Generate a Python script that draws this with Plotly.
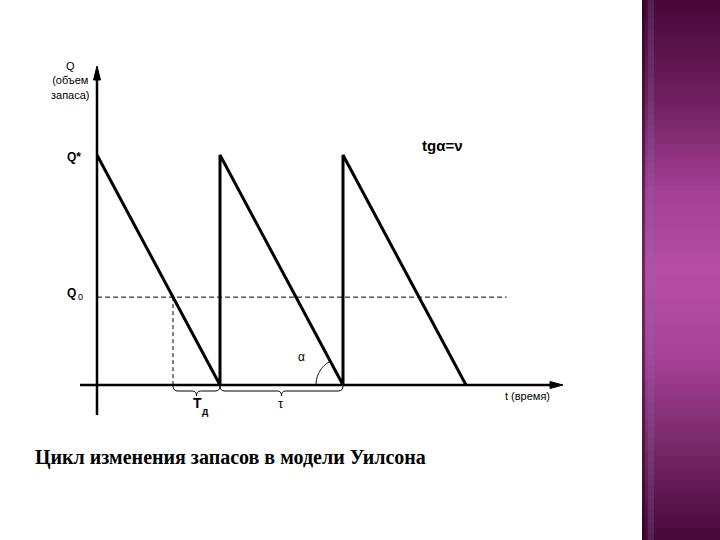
import plotly.graph_objects as go
import math

# ---- data (model units: cycle length tau = 1, Q* = 1) ----
t_saw = [0, 1, 1, 2, 2, 3]
q_saw = [1, 0, 1, 0, 1, 0]
q_star = 1.0
q_zero = 0.382
t_q0_end = 3.33

# pixel mapping of the drawing (layout only)
PX0, PXS = 97, 123
PY0, PYS = 385, 230
W, H = 720, 540


def T(px):
    return (px - PX0) / PXS


def Qv(py):
    return (PY0 - py) / PYS


fig = go.Figure()

# sawtooth
fig.add_trace(go.Scatter(x=t_saw, y=q_saw, mode="lines",
                         line=dict(color="black", width=3), hoverinfo="skip"))
# Q0 dashed horizontal
fig.add_trace(go.Scatter(x=[0, t_q0_end], y=[q_zero, q_zero], mode="lines",
                         line=dict(color="black", width=1, dash="5px,3px"), hoverinfo="skip"))
# Td dashed vertical (where the first tooth crosses Q0)
t_d = t_saw[1] * (1 - q_zero / q_star)
fig.add_trace(go.Scatter(x=[t_d, t_d], y=[q_zero, 0], mode="lines",
                         line=dict(color="black", width=1, dash="4px,3px"), hoverinfo="skip"))

shapes = []
# axes
shapes.append(dict(type="line", x0=0, x1=0, y0=Qv(415), y1=Qv(75), xref="x", yref="y",
                   line=dict(color="black", width=2.5)))
shapes.append(dict(type="line", x0=T(80), x1=T(555), y0=0, y1=0, xref="x", yref="y",
                   line=dict(color="black", width=2.5)))
# arrow heads
shapes.append(dict(type="path", xref="x", yref="y",
                   path=f"M {T(97)},{Qv(66)} L {T(93.5)},{Qv(80)} L {T(100.5)},{Qv(80)} Z",
                   fillcolor="black", line=dict(color="black", width=1)))
shapes.append(dict(type="path", xref="x", yref="y",
                   path=f"M {T(563)},{Qv(385)} L {T(550)},{Qv(381.5)} L {T(550)},{Qv(388.5)} Z",
                   fillcolor="black", line=dict(color="black", width=1)))


def brace(x1, x2, top=386, mid_y=391, tip=396):
    m = (x1 + x2) / 2
    p = (f"M {T(x1)},{Qv(top)} Q {T(x1)},{Qv(mid_y)} {T(x1+5)},{Qv(mid_y)} "
         f"L {T(m-4)},{Qv(mid_y)} Q {T(m)},{Qv(mid_y)} {T(m)},{Qv(tip)} "
         f"Q {T(m)},{Qv(mid_y)} {T(m+4)},{Qv(mid_y)} "
         f"L {T(x2-5)},{Qv(mid_y)} Q {T(x2)},{Qv(mid_y)} {T(x2)},{Qv(top)}")
    return dict(type="path", xref="x", yref="y", path=p, line=dict(color="black", width=1))


px_d = PX0 + t_d * PXS
px_1 = PX0 + t_saw[1] * PXS
px_2 = PX0 + t_saw[3] * PXS
shapes.append(brace(px_d, px_1))
shapes.append(brace(px_1, px_2))

# alpha arc at the vertex of the second tooth
r = 27
ang_line = math.degrees(math.atan2(PYS, PXS))
pts = []
for i in range(21):
    a = math.radians(180 - ang_line * i / 20)
    pts.append((px_2 + r * math.cos(a), PY0 - r * math.sin(a)))
arc = "M " + " L ".join(f"{T(x)},{Qv(y)}" for x, y in pts)
shapes.append(dict(type="path", xref="x", yref="y", path=arc, line=dict(color="black", width=1)))

# purple side bar (vertical gradient)
stops = [(0, (72, 8, 56)), (0.18, (110, 32, 94)), (0.35, (162, 64, 148)),
         (0.5, (182, 78, 166)), (0.65, (170, 68, 154)), (0.82, (122, 42, 106)),
         (1.0, (72, 8, 56))]


def col(f):
    for (f0, c0), (f1, c1) in zip(stops, stops[1:]):
        if f0 <= f <= f1:
            k = (f - f0) / (f1 - f0)
            return "rgb(%d,%d,%d)" % tuple(int(c0[i] + (c1[i] - c0[i]) * k) for i in range(3))
    return "rgb(72,8,56)"


N = 90
for i in range(N):
    y1 = 1 - i / N
    y0 = 1 - (i + 1) / N
    shapes.append(dict(type="rect", xref="paper", yref="paper", x0=642 / W, x1=1.0,
                       y0=y0 - 0.002, y1=y1, fillcolor=col((i + 0.5) / N), line=dict(width=0),
                       layer="below"))
shapes.append(dict(type="rect", xref="paper", yref="paper", x0=642 / W, x1=645 / W, y0=0, y1=1,
                   fillcolor="rgba(40,0,30,0.5)", line=dict(width=0)))
shapes.append(dict(type="rect", xref="paper", yref="paper", x0=648 / W, x1=654 / W, y0=0, y1=1,
                   fillcolor="rgba(120,110,170,0.25)", line=dict(width=0)))

ann = []
sans = "Liberation Sans, Arial, sans-serif"


def label(px, py, text, size, fam=sans):
    ann.append(dict(x=T(px), y=Qv(py), xref="x", yref="y", text=text, showarrow=False,
                    font=dict(family=fam, size=size, color="black"),
                    xanchor="center", yanchor="middle"))


label(70, 80, "Q<br>(объем<br>запаса)", 11)
label(74, 157, "<b>Q*</b>", 12)
label(71, 293, "<b>Q</b>", 12)
label(80, 297, "0", 9)
label(442, 145, "<b>tgα=ν</b>", 15)
label(527, 396, "t (время)", 11)
label(197, 403, "<b>T</b>", 14)
label(205, 411, "<b>д</b>", 10)
label(281, 403, "τ", 13)
label(301, 357, "α", 12)
ann.append(dict(x=T(33), y=Qv(457), xref="x", yref="y", xanchor="left", yanchor="middle",
                text="<b>Цикл изменения запасов в модели Уилсона</b>", showarrow=False,
                font=dict(family="Liberation Serif, Times New Roman, serif", size=20, color="black")))

fig.update_layout(
    width=W, height=H, margin=dict(l=0, r=0, t=0, b=0),
    paper_bgcolor="white", plot_bgcolor="white", showlegend=False,
    xaxis=dict(range=[T(0), T(W)], visible=False, fixedrange=True),
    yaxis=dict(range=[Qv(H), Qv(0)], visible=False, fixedrange=True),
    shapes=shapes, annotations=ann,
)
fig.write_html("out.html", config={"displayModeBar": False},
               post_script="document.body.style.margin='0';document.body.style.overflow='hidden';")
